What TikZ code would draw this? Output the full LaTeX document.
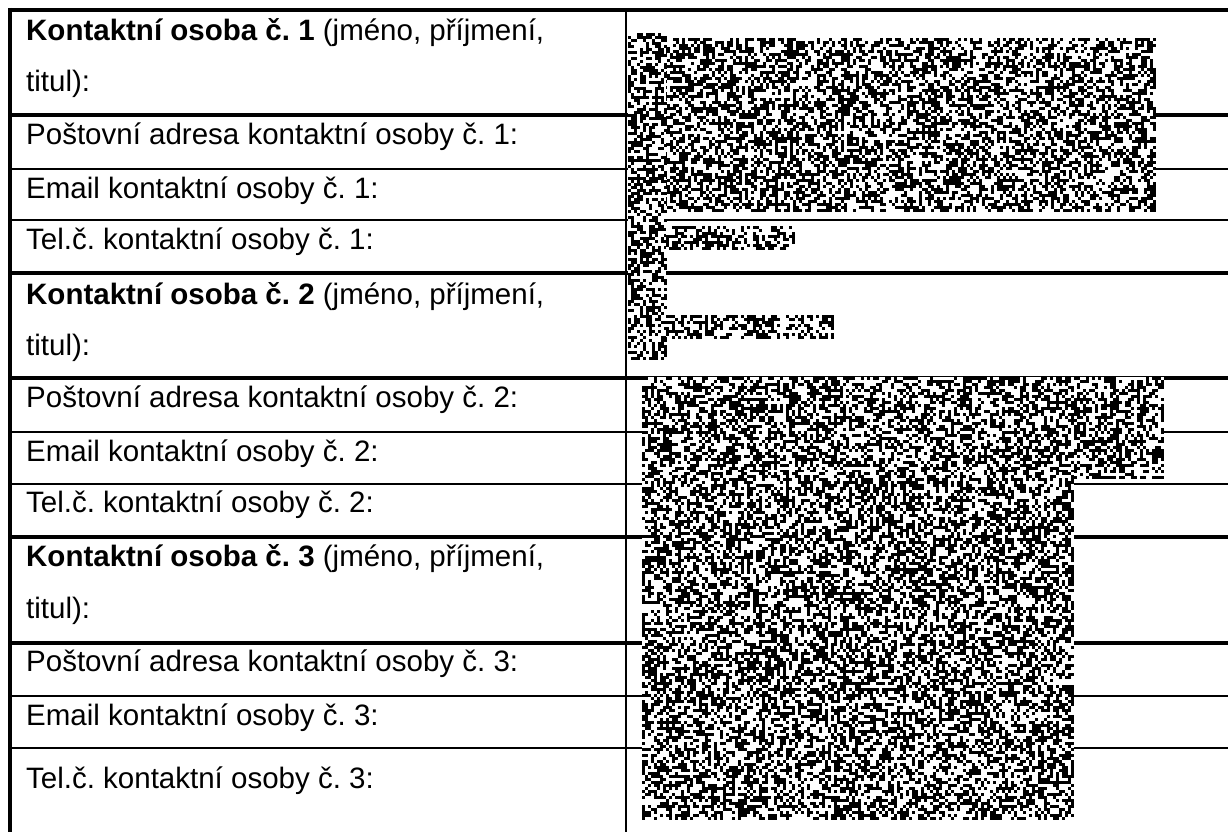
\documentclass[tikz,border=0pt]{standalone}
\usepackage{fontspec}
\setmainfont{Liberation Sans}
\frenchspacing
\newcount\nzx \newcount\nzy \newcount\nzxa \newcount\nzxb \newcount\nzyb
\newcount\nzs \newcount\nzt \newcount\nzu \newcount\nzw \newcount\nzrun
\nzs=20240517
\def\nzstep{%
  \nzt=\nzs \divide\nzt by 127773
  \nzu=\nzt \multiply\nzu by 127773
  \advance\nzs by -\nzu
  \multiply\nzs by 16807
  \multiply\nzt by 2836
  \advance\nzs by -\nzt
  \ifnum\nzs<0 \advance\nzs by 2147483647 \fi}
\def\nzemit{\ifnum\nzrun>-1\relax
  \nzw=\nzx \advance\nzw by -\nzrun
  \pgfpathrectangle{\pgfqpoint{\nzrun pt}{-\nzy pt}}{\pgfqpoint{\nzw pt}{-3pt}}\pgfusepath{fill}%
  \nzrun=-1\relax\fi}
\def\nzrow{\ifnum\nzx<\nzxb\relax
    \nzstep
    \ifnum\nzs>1073741823\relax \ifnum\nzrun<0 \nzrun=\nzx\fi \else \nzemit \fi
    \advance\nzx by 3\relax
    \expandafter\nzrow
  \else \nzemit \fi}
\def\nzrows{\ifnum\nzy<\nzyb\relax \nzx=\nzxa \nzrun=-1 \nzrow \advance\nzy by 3\relax \expandafter\nzrows\fi}
\newcommand\noiseblock[4]{\fill[white] (#1,#2) rectangle (#3,#4);
  \nzxa=#1\relax \nzy=#2\relax \nzxb=#3\relax \nzyb=#4\relax \nzrows}
\tikzset{
  heavyrule/.style={line width=4pt},
  lightrule/.style={line width=2pt},
  lbl/.style={anchor=base west, inner sep=0pt, font=\fontsize{29.5}{35}\selectfont}
}
\begin{document}
\begin{tikzpicture}[x=1pt,y=-1pt]
\useasboundingbox[fill=white] (0,0) rectangle (1228,832);
% horizontal rules
\draw[heavyrule] (8,10) -- (1228,10);
\foreach \yy in {115,273,378,537,643} \draw[heavyrule] (10,\yy) -- (1228,\yy);
\foreach \yy in {169,220,432,484,696,748} \draw[lightrule] (10,\yy) -- (1228,\yy);
% vertical rules
\draw[line width=4pt] (10,8) -- (10,832);
\draw[line width=2.5pt] (626,10) -- (626,832);
% labels
\node[lbl] (k1a) at (26,41) {\textbf{Kontaktní osoba č. 1} (jméno, příjmení,};
\node[lbl] (k1b) at (26,92) {titul):};
\node[lbl] (p1) at (26,144) {Poštovní adresa kontaktní osoby č. 1:};
\node[lbl] (e1) at (26,198) {Email kontaktní osoby č. 1:};
\node[lbl] (t1) at (26,249) {Tel.č. kontaktní osoby č. 1:};
\node[lbl] (k2a) at (26,304) {\textbf{Kontaktní osoba č. 2} (jméno, příjmení,};
\node[lbl] (k2b) at (26,355) {titul):};
\node[lbl] (p2) at (26,407) {Poštovní adresa kontaktní osoby č. 2:};
\node[lbl] (e2) at (26,461) {Email kontaktní osoby č. 2:};
\node[lbl] (t2) at (26,512) {Tel.č. kontaktní osoby č. 2:};
\node[lbl] (k3a) at (26,566) {\textbf{Kontaktní osoba č. 3} (jméno, příjmení,};
\node[lbl] (k3b) at (26,618) {titul):};
\node[lbl] (p3) at (26,671) {Poštovní adresa kontaktní osoby č. 3:};
\node[lbl] (e3) at (26,725) {Email kontaktní osoby č. 3:};
\node[lbl] (t3) at (26,788) {Tel.č. kontaktní osoby č. 3:};
% redaction noise
\noiseblock{628}{38}{1154}{212}
\noiseblock{628}{33}{666}{358}
\noiseblock{666}{226}{794}{249}
\noiseblock{666}{315}{834}{337}
\noiseblock{642}{377}{1164}{477}
\noiseblock{642}{472}{1074}{820}
\end{tikzpicture}
\end{document}
